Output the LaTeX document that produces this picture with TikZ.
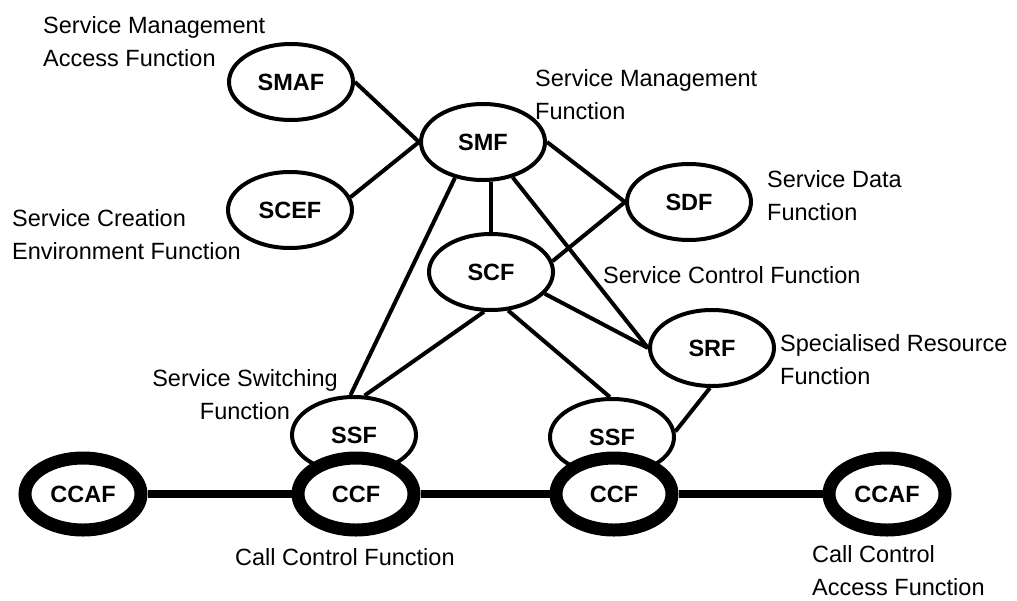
\documentclass[tikz,border=0pt]{standalone}
\usepackage{fontspec}
\setmainfont{Liberation Sans}
\usetikzlibrary{shapes.geometric}
\begin{document}
\begin{tikzpicture}[x=1pt,y=-1pt,
  fn/.style={ellipse, draw, fill=white, line width=4pt,
    minimum width=124pt, minimum height=76pt, inner sep=0pt,
    font=\fontsize{23.5}{28}\selectfont\bfseries},
  callfn/.style={fn, line width=13pt, minimum width=116pt, minimum height=72pt},
  link/.style={line width=4pt},
  bearer/.style={line width=7.5pt},
  lbl/.style={font=\fontsize{23.5}{33}\selectfont, align=left, anchor=west, inner sep=0pt}]
\useasboundingbox (0,0) rectangle (1017,600);

% functional entities
\node[fn] (smaf) at (291,82) {SMAF};
\node[fn] (scef) at (290,210) {SCEF};
\node[fn] (smf)  at (483,142) {SMF};
\node[fn] (sdf)  at (689,202) {SDF};
\node[fn] (scf)  at (491,272) {SCF};
\node[fn] (srf)  at (712,348) {SRF};
\node[fn] (ssfL) at (354,435) {SSF};
\node[fn] (ssfR) at (612,437) {SSF};
\node[callfn] (ccfL)  at (356,494) {CCF};
\node[callfn] (ccfR)  at (614,494) {CCF};
\node[callfn] (ccafL) at (83,494)  {CCAF};
\node[callfn] (ccafR) at (887,494) {CCAF};

% descriptive labels
\node[lbl] (tSmaf) at (43,41.5) {Service Management\\Access Function};
\node[lbl] (tScef) at (12,235) {Service Creation\\Environment Function};
\node[lbl] (tSmf)  at (535,95) {Service Management\\Function};
\node[lbl] (tSdf)  at (767,196) {Service Data\\Function};
\node[lbl] (tScf)  at (603,275) {Service Control Function};
\node[lbl] (tSrf)  at (780,360) {Specialised Resource\\Function};
\node[lbl, align=center, anchor=center] (tSsf) at (245,395) {Service Switching\\Function};
\node[lbl] (tCcf)  at (235,557) {Call Control Function};
\node[lbl] (tCcaf) at (812,571) {Call Control\\Access Function};

% management and control relations
\draw[link] (smaf.east) -- (smf.west);
\draw[link] (scef.12) -- (smf.west);
\draw[link] (smf.east) -- (sdf.west);
\draw[link] (scf.north) -- (scf.north |- smf.south);
\draw[link] (smf.-128) -- (ssfL.95);
\draw[link] (smf.-50) -- (srf.west);
\draw[link] (scf.10) -- (sdf.west);
\draw[link] (scf.-22) -- (srf.west);
\draw[link] (scf.-100) -- (ssfL.75);
\draw[link] (scf.-66) -- (ssfR.93);
\draw[link] (srf.-93) -- (ssfR.5);

% call path
\draw[bearer] (ccafL) -- (ccfL);
\draw[bearer] (ccfL) -- (ccfR);
\draw[bearer] (ccfR) -- (ccafR);
\end{tikzpicture}
\end{document}
